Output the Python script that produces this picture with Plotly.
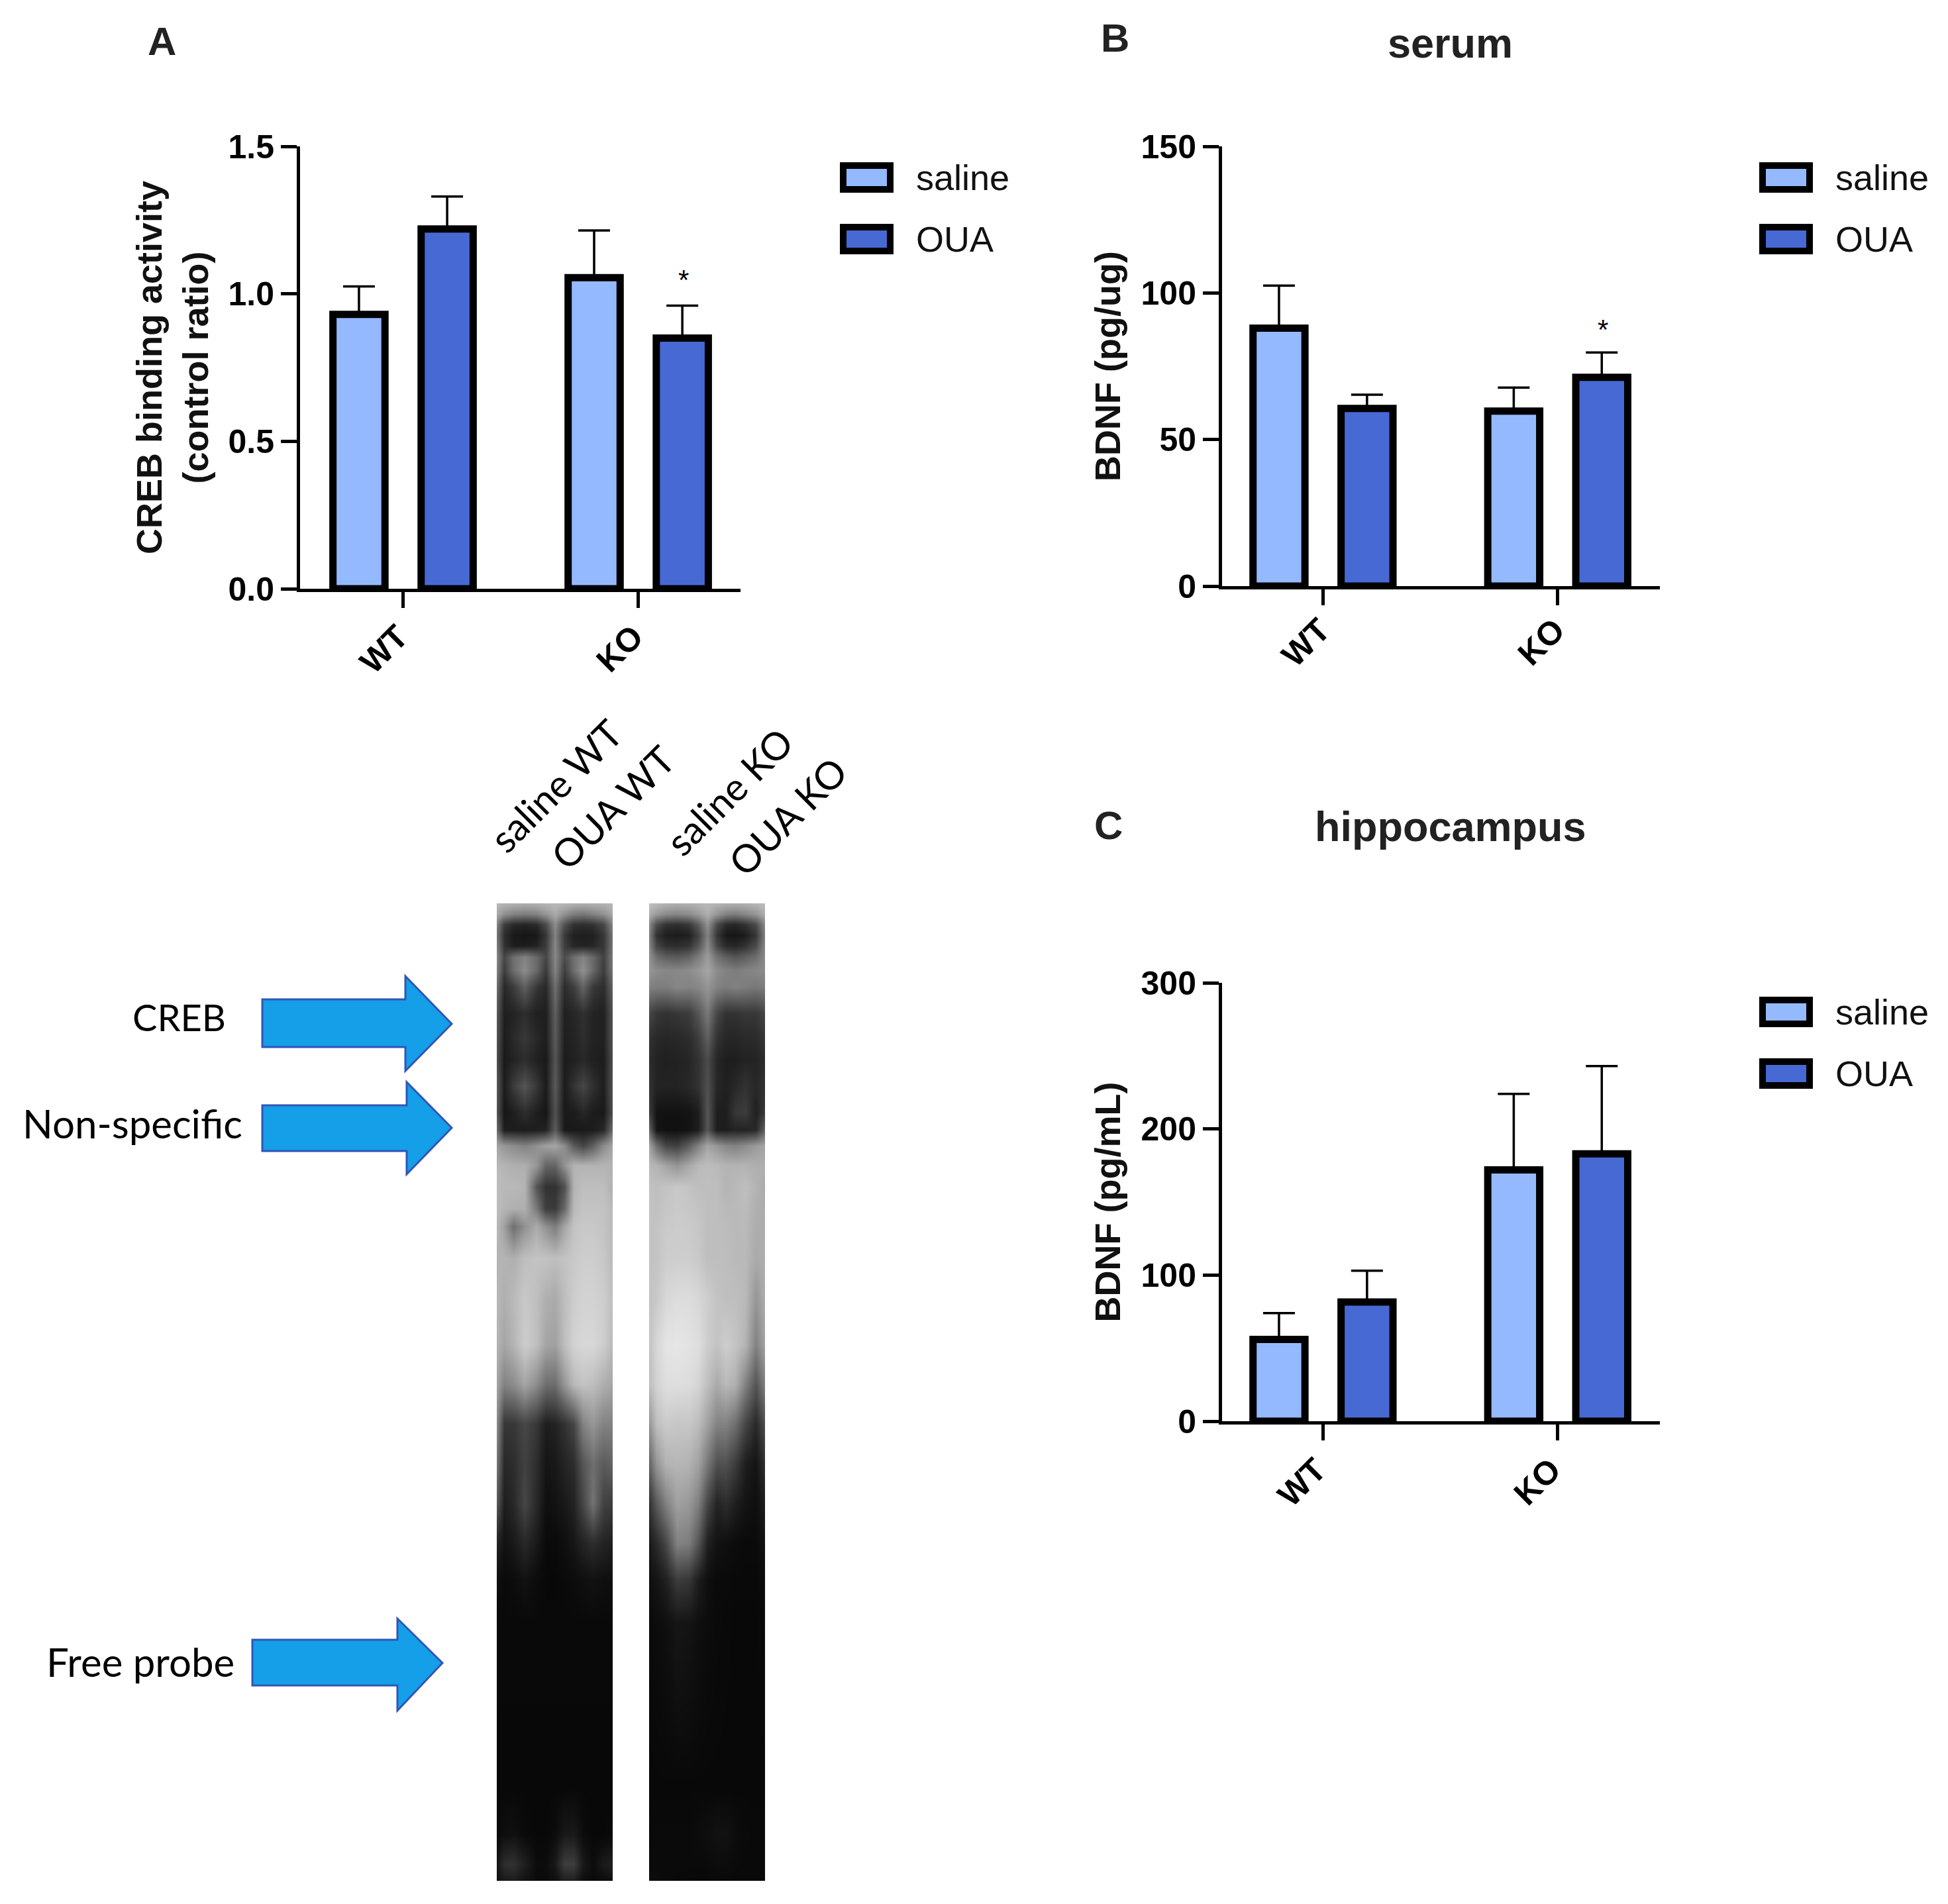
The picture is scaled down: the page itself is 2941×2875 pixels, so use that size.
import plotly.graph_objects as go

W, H = 2941, 2875

# ---- data ----
groups = ["WT", "KO"]
series_names = ["saline", "OUA"]

creb_saline = [0.93, 1.055]
creb_oua = [1.22, 0.85]
creb_saline_err = [0.095, 0.16]
creb_oua_err = [0.11, 0.11]

serum_saline = [88, 59.7]
serum_oua = [60.6, 71.2]
serum_saline_err = [14.5, 8]
serum_oua_err = [4.7, 8.5]

hippo_saline = [56, 172]
hippo_oua = [81.6, 183]
hippo_saline_err = [18, 52]
hippo_oua_err = [21.4, 60]

lane_labels = ["saline WT", "OUA WT", "saline KO", "OUA KO"]

# gel densitometry (grey level, 0 black .. 255 white), read by eye
gel_cols = [0, .06, .14, .24, .34, .42, .50, .58, .66, .745, .83, .92, 1]
gel_rows = [1364, 1380, 1396, 1412, 1428, 1445, 1465, 1490, 1530, 1568, 1600, 1640, 1680, 1706, 1730, 1760, 1792,
            1825, 1852, 1900, 1960, 2030, 2090, 2150, 2210, 2270, 2330, 2385, 2450, 2700, 2770, 2815, 2840]
gel_left = [
    [185,180,178,175,178,182,185,182,178,175,178,180,185],
    [170,145,130,125,130,150,170,145,125,120,130,145,170],
    [130,60,40,35,42,75,140,80,50,45,50,70,135],
    [120,45,25,22,25,55,130,58,32,30,32,55,120],
    [125,50,30,28,35,60,135,60,38,35,38,55,120],
    [135,70,110,130,105,70,135,75,110,130,105,65,125],
    [130,60,110,140,105,58,130,62,110,145,105,60,120],
    [110,40,60,95,55,40,110,45,62,100,58,45,100],
    [90,30,35,45,32,30,95,32,38,48,35,32,85],
    [85,28,42,55,40,30,90,30,36,45,35,32,85],
    [80,25,35,45,32,25,85,28,32,40,32,28,80],
    [90,28,60,85,55,28,90,28,52,70,48,30,85],
    [85,22,30,45,30,22,80,25,28,38,28,25,80],
    [110,30,28,28,30,35,90,25,25,25,28,40,110],
    [165,150,140,130,145,160,165,140,90,70,95,140,165],
    [185,180,175,175,150,100,100,145,180,180,180,180,180],
    [190,185,185,180,85,50,50,80,180,190,190,190,175],
    [190,180,175,175,120,62,58,105,185,195,195,195,185],
    [185,160,110,145,172,145,125,165,195,200,200,195,185],
    [180,180,175,190,195,195,190,195,200,205,205,200,185],
    [185,175,185,200,190,175,170,190,205,210,210,205,190],
    [180,165,180,205,190,165,160,190,210,215,215,205,185],
    [165,130,140,165,140,110,110,150,185,195,190,175,165],
    [140,55,55,70,55,30,35,50,70,130,150,130,130],
    [120,40,45,65,45,20,25,35,45,85,110,90,100],
    [90,30,40,70,40,15,18,25,35,70,115,65,60],
    [35,18,25,40,25,10,10,15,22,35,45,35,30],
    [15,10,12,18,12,8,8,10,12,15,18,15,15],
    [9,9,9,9,9,9,9,9,9,9,9,9,9],
    [8,8,8,8,8,8,8,8,8,8,8,8,8],
    [8,14,16,10,8,8,12,24,26,12,8,8,10],
    [20,45,50,30,12,12,25,62,62,25,12,25,32],
    [15,25,28,18,10,10,14,30,30,14,10,12,15],
]
gel_right = [
    [190,185,180,175,178,180,185,180,178,175,178,182,190],
    [175,155,140,135,140,155,175,150,130,125,135,150,175],
    [140,75,50,45,55,90,145,75,42,38,50,75,140],
    [130,50,30,28,32,65,130,55,25,22,28,55,130],
    [135,70,48,45,52,85,140,72,42,38,50,75,135],
    [145,110,95,90,100,125,155,115,95,85,95,110,140],
    [150,140,135,135,140,150,165,140,130,125,130,135,140],
    [130,125,125,135,130,135,150,130,125,130,125,120,125],
    [70,55,50,55,60,85,120,70,50,50,55,55,70],
    [50,40,38,40,45,60,95,50,38,38,42,42,55],
    [45,35,32,34,38,50,75,38,30,30,35,35,45],
    [50,35,35,35,40,50,80,38,32,40,50,40,50],
    [60,20,18,18,20,28,85,30,30,55,60,32,60],
    [100,22,16,16,20,30,85,30,30,35,35,40,100],
    [165,110,70,65,95,130,165,150,135,130,140,155,165],
    [185,180,165,150,170,185,190,185,180,180,180,175,175],
    [195,190,195,200,195,190,190,190,180,185,190,180,170],
    [195,192,198,202,198,195,190,190,185,185,188,175,172],
    [195,195,202,204,202,198,190,190,188,185,186,172,174],
    [195,195,205,205,205,200,190,190,190,185,185,170,175],
    [195,200,215,220,220,215,205,195,190,190,185,150,175],
    [195,215,228,230,226,222,205,195,205,195,180,130,165],
    [190,210,222,222,220,212,190,170,185,175,130,85,130],
    [150,190,202,198,198,188,160,130,130,110,70,40,80],
    [100,150,178,182,178,162,120,80,80,60,30,20,50],
    [50,90,128,160,152,128,70,35,45,30,20,15,30],
    [25,42,70,130,125,85,32,18,15,12,10,10,18],
    [15,20,32,60,55,30,15,10,10,9,9,9,12],
    [10,12,15,22,20,15,12,10,9,8,8,8,10],
    [8,8,8,8,8,8,8,8,8,8,8,8,8],
    [9,10,10,10,10,12,14,18,18,12,10,9,9],
    [10,10,10,10,10,10,10,12,12,10,9,9,9],
    [15,12,10,9,8,8,8,9,9,8,8,8,9],
]

# ---- styles ----
LIGHT, DARK = "#95B9FF", "#4769D3"
ARROW_FILL, ARROW_LINE = "#149FE8", "#3056B8"
SANS, HUM = "Liberation Sans", "Lato"

def xp(x): return x / W
def yp(y): return 1 - y / H

fig = go.Figure()

panels = [
    dict(n=1, box=(453, 1118, 221, 889), xr=[-0.438, 1.435], ymax=1.5, ticks=[0, .5, 1, 1.5], fmt=".1f",
         title="CREB binding activity<br>(control ratio)", standoff=14, shift=-7, stand=-6,
         s=creb_saline, o=creb_oua, se=creb_saline_err, oe=creb_oua_err),
    dict(n=2, box=(1845, 2506, 221, 885), xr=[-0.43, 1.435], ymax=150, ticks=[0, 50, 100, 150], fmt="d",
         title="BDNF (pg/ug)", standoff=15, shift=-4, stand=-12,
         s=serum_saline, o=serum_oua, se=serum_saline_err, oe=serum_oua_err),
    dict(n=3, box=(1845, 2506, 1484, 2146), xr=[-0.43, 1.435], ymax=300, ticks=[0, 100, 200, 300], fmt="d",
         title="BDNF (pg/mL)", standoff=15, shift=-10, stand=-5,
         s=hippo_saline, o=hippo_oua, se=hippo_saline_err, oe=hippo_oua_err),
]

layout_axes = {}
for p in panels:
    n = p["n"]
    xa, ya = ("x%d" % n, "y%d" % n)
    for name, vals, errs, col in [(series_names[0], p["s"], p["se"], LIGHT),
                                  (series_names[1], p["o"], p["oe"], DARK)]:
        fig.add_trace(go.Bar(
            x=groups, y=vals, name=name, xaxis=xa, yaxis=ya, showlegend=False,
            offsetgroup=name, marker=dict(color=col, line=dict(color="black", width=11)),
            error_y=dict(type="data", symmetric=False, array=errs, arrayminus=[0, 0],
                         color="black", thickness=3.5, width=24),
            cliponaxis=False,
        ))
    x0, x1, y0, y1 = p["box"]
    layout_axes["xaxis%d" % n] = dict(
        domain=[xp(x0), xp(x1)], anchor=ya, type="category", categoryorder="array",
        categoryarray=groups, range=p["xr"], showgrid=False, zeroline=False,
        showline=True, linecolor="black", linewidth=5, ticks="outside", ticklen=24,
        tickwidth=5, tickcolor="black", tickangle=-45,
        ticklabelshift=p["shift"], ticklabelstandoff=p["stand"],
        tickfont=dict(family=SANS, size=50, color="black", weight=700))
    layout_axes["yaxis%d" % n] = dict(
        domain=[yp(y1), yp(y0)], anchor=xa, range=[0, p["ymax"]], tickvals=p["ticks"],
        tickformat=p["fmt"], showgrid=False, zeroline=False, showline=True,
        linecolor="black", linewidth=5, ticks="outside", ticklen=24, tickwidth=5,
        tickcolor="black", tickfont=dict(family=SANS, size=50, color="black", weight=700),
        title=dict(text=p["title"], standoff=p["standoff"],
                   font=dict(family=SANS, size=54, color="#111", weight=700)))

# gel image: two strips, each on its own hidden axis pair so it is cropped to its edges
common = dict(x=gel_cols, y=gel_rows, zmin=0, zmax=255, zsmooth="best", showscale=False, hoverinfo="skip",
              colorscale=[[0, "black"], [1, "white"]])
fig.add_trace(go.Heatmap(z=gel_left, xaxis="x4", yaxis="y4", **common))
fig.add_trace(go.Heatmap(z=gel_right, xaxis="x5", yaxis="y5", **common))
for n, (gx0, gx1) in [(4, (750, 925)), (5, (980, 1155))]:
    layout_axes["xaxis%d" % n] = dict(domain=[xp(gx0), xp(gx1)], anchor="y%d" % n, range=[0, 1], visible=False)
    layout_axes["yaxis%d" % n] = dict(domain=[yp(2840), yp(1364)], anchor="x%d" % n, range=[2840, 1364], visible=False)

shapes, notes = [], []

def note(x, y, text, size, family=SANS, color="black", weight=400, angle=0, xanchor="center"):
    notes.append(dict(xref="paper", yref="paper", x=xp(x), y=yp(y), text=text, showarrow=False,
                      xanchor=xanchor, yanchor="middle", textangle=angle,
                      font=dict(family=family, size=size, color=color, weight=weight)))

# panel letters and titles
note(244, 63, "A", 60, weight=700, color="#222")
note(1683, 57, "B", 60, weight=700, color="#222")
note(1673, 1246, "C", 60, weight=700, color="#222")
note(2189, 65, "serum", 63, weight=700, color="#222")
note(2190, 1248, "hippocampus", 63, weight=700, color="#222")

# significance marks
note(1032, 422, "*", 42)
note(2420, 498, "*", 42)

# legends
for lx, ly in [(1270, 247), (2658, 247), (2658, 1507)]:
    for i, (nm, col) in enumerate(zip(series_names, [LIGHT, DARK])):
        top = ly + i * 93
        shapes.append(dict(type="rect", xref="paper", yref="paper", x0=xp(lx + 3), x1=xp(lx + 74),
                           y0=yp(top + 39), y1=yp(top + 3), fillcolor=col,
                           line=dict(color="black", width=10)))
        note(lx + 111, top + 21, nm, 54, xanchor="left", color="#111")

# lane labels
for (lx, ly), lab in zip([(838, 1186), (925, 1219), (1101, 1195), (1188, 1232)], lane_labels):
    note(lx, ly, lab, 58, family=HUM, angle=-45)

# arrows with text
for (x0, xb, xt, bt, bb, ht, hb, yt), lab, tx, ty, fs in [
    ((396, 612, 682, 1509, 1581, 1474, 1617, 1546), "CREB", 270, 1536, 56),
    ((396, 614, 682, 1669, 1738, 1634, 1773, 1703), "Non-specific", 200, 1696, 60),
    ((381, 600, 668, 2476, 2545, 2444, 2583, 2511), "Free probe", 212, 2509, 60),
]:
    pts = [(x0, bt), (xb, bt), (xb, ht), (xt, yt), (xb, hb), (xb, bb), (x0, bb)]
    path = "M " + " L ".join("%.5f %.5f" % (xp(a), yp(b)) for a, b in pts) + " Z"
    shapes.append(dict(type="path", xref="paper", yref="paper", path=path, fillcolor=ARROW_FILL,
                       line=dict(color=ARROW_LINE, width=3)))
    note(tx, ty, lab, fs, family=HUM)

fig.update_layout(
    width=W, height=H, margin=dict(l=0, r=0, t=0, b=0, autoexpand=False),
    paper_bgcolor="white", plot_bgcolor="white", barmode="group",
    bargap=0.25, bargroupgap=0.41, showlegend=False,
    shapes=shapes, annotations=notes, **layout_axes,
)

fig.write_html("out.html", config={"displayModeBar": False},
               post_script="document.body.style.margin='0';")
